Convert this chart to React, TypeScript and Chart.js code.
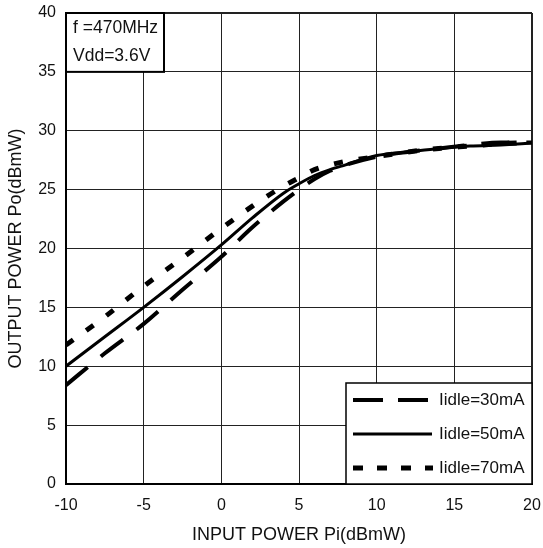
import React, { useEffect, useRef } from "react";
import { Chart, registerables } from "chart.js";

Chart.register(...registerables);

const inputPower = [-10, -7.5, -5, -2.5, 0, 2, 4, 5, 6, 7, 8, 10, 12, 14, 16, 18, 20];
const idle30 = [8.4, 11.1, 13.6, 16.5, 19.3, 21.8, 24.0, 25.0, 25.9, 26.6, 27.1, 27.8, 28.2, 28.5, 28.8, 29.0, 29.0];
const idle50 = [10.0, 12.5, 15.0, 17.6, 20.3, 22.6, 24.7, 25.5, 26.2, 26.7, 27.1, 27.9, 28.2, 28.5, 28.7, 28.8, 28.95];
const idle70 = [11.8, 14.2, 16.8, 19.2, 21.7, 23.6, 25.3, 26.0, 26.7, 27.1, 27.4, 27.8, 28.2, 28.5, 28.7, 28.9, 29.0];
const seriesLabels = ["Iidle=30mA", "Iidle=50mA", "Iidle=70mA"];
const noteLines = ["f =470MHz", "Vdd=3.6V"];
const xTitle = "INPUT POWER Pi(dBmW)";
const yTitle = "OUTPUT POWER Po(dBmW)";

const FONT = "'Liberation Sans', Arial, sans-serif";
const INK = "#111";

const toXY = (ys: number[]) => ys.map((y, i) => ({ x: inputPower[i], y }));

const overlayPlugin = {
  id: "overlay",
  afterDatasetsDraw(chart: any) {
    const { ctx, chartArea } = chart;
    const yScale = chart.scales.y;
    ctx.save();
    // annotation box
    const aL = chartArea.left;
    const aT = chartArea.top;
    const aB = yScale.getPixelForValue(35);
    const aR = aL + 98;
    ctx.fillStyle = "#fff";
    ctx.fillRect(aL, aT, aR - aL, aB - aT);
    ctx.strokeStyle = "#000";
    ctx.lineWidth = 2;
    ctx.setLineDash([]);
    ctx.strokeRect(aL, aT, aR - aL, aB - aT);
    ctx.fillStyle = INK;
    ctx.font = `17.5px ${FONT}`;
    ctx.textBaseline = "middle";
    ctx.textAlign = "left";
    ctx.fillText(noteLines[0], aL + 7, aT + 15);
    ctx.fillText(noteLines[1], aL + 7, aT + 43);

    // legend box
    const lR = chartArea.right;
    const lB = chartArea.bottom;
    const lL = lR - 186;
    const lT = lB - 101;
    ctx.fillStyle = "#fff";
    ctx.fillRect(lL, lT, lR - lL, lB - lT);
    ctx.strokeStyle = "#000";
    ctx.lineWidth = 1.5;
    ctx.strokeRect(lL, lT, lR - lL, lB - lT);
    const rows = [lT + 17, lT + 51, lT + 85];
    const samples = [
      { dash: [30, 15], width: 4, end: 428 - 346 },
      { dash: [], width: 3, end: 432 - 346 },
      { dash: [10, 14], width: 5, end: 433 - 346 },
    ];
    samples.forEach((s, i) => {
      ctx.beginPath();
      ctx.setLineDash(s.dash);
      ctx.lineWidth = s.width;
      ctx.strokeStyle = "#000";
      ctx.lineCap = "butt";
      ctx.moveTo(lL + 7, rows[i]);
      ctx.lineTo(lL + s.end, rows[i]);
      ctx.stroke();
    });
    ctx.setLineDash([]);
    ctx.fillStyle = INK;
    ctx.font = `17px ${FONT}`;
    ctx.textBaseline = "middle";
    seriesLabels.forEach((t, i) => ctx.fillText(t, lL + 93, rows[i]));
    ctx.restore();
  },
};

export default function App() {
  const ref = useRef<HTMLCanvasElement>(null);
  useEffect(() => {
    if (!ref.current) return;
    const chart = new Chart(ref.current, {
      type: "line",
      data: {
        datasets: [
          {
            label: seriesLabels[0],
            data: toXY(idle30),
            borderColor: "#000",
            borderWidth: 4,
            borderDash: [28, 17],
            pointRadius: 0,
            cubicInterpolationMode: "monotone",
          },
          {
            label: seriesLabels[1],
            data: toXY(idle50),
            borderColor: "#000",
            borderWidth: 3,
            pointRadius: 0,
            cubicInterpolationMode: "monotone",
          },
          {
            label: seriesLabels[2],
            data: toXY(idle70),
            borderColor: "#000",
            borderWidth: 5,
            borderDash: [9, 16],
            pointRadius: 0,
            cubicInterpolationMode: "monotone",
          },
        ],
      },
      options: {
        responsive: false,
        animation: false,
        layout: { padding: { left: 0, top: 13, right: 11, bottom: 0 } },
        plugins: { legend: { display: false }, tooltip: { enabled: false } },
        scales: {
          x: {
            type: "linear",
            min: -10,
            max: 20,
            afterFit: (s: any) => {
              s.height = 64;
              s.paddingLeft = 0;
              s.paddingRight = 0;
            },
            ticks: {
              stepSize: 5,
              padding: 12,
              color: INK,
              font: { family: FONT, size: 16 },
            },
            grid: {
              color: "#222",
              lineWidth: (c: any) => (c.tick && c.tick.value === 20 ? 2 : 1),
              drawTicks: false,
            },
            border: { color: "#000", width: 2 },
            title: {
              display: true,
              text: xTitle,
              color: INK,
              font: { family: FONT, size: 18 },
              padding: { top: 0, bottom: 2 },
            },
          },
          y: {
            min: 0,
            max: 40,
            afterFit: (s: any) => {
              s.width = 66;
              s.paddingTop = 0;
              s.paddingBottom = 0;
            },
            ticks: {
              stepSize: 5,
              padding: 10,
              color: INK,
              font: { family: FONT, size: 16 },
            },
            grid: {
              color: "#222",
              lineWidth: (c: any) => (c.tick && c.tick.value === 40 ? 2 : 1),
              drawTicks: false,
            },
            border: { color: "#000", width: 2 },
            title: {
              display: true,
              text: yTitle,
              color: INK,
              font: { family: FONT, size: 18 },
              padding: { top: 5, bottom: 0 },
            },
          },
        },
      },
      plugins: [overlayPlugin],
    } as any);
    return () => chart.destroy();
  }, []);
  return (
    <div style={{ position: "absolute", left: 0, top: 0, width: 543, height: 548, background: "#fff" }}>
      <canvas ref={ref} width={543} height={548} />
    </div>
  );
}
